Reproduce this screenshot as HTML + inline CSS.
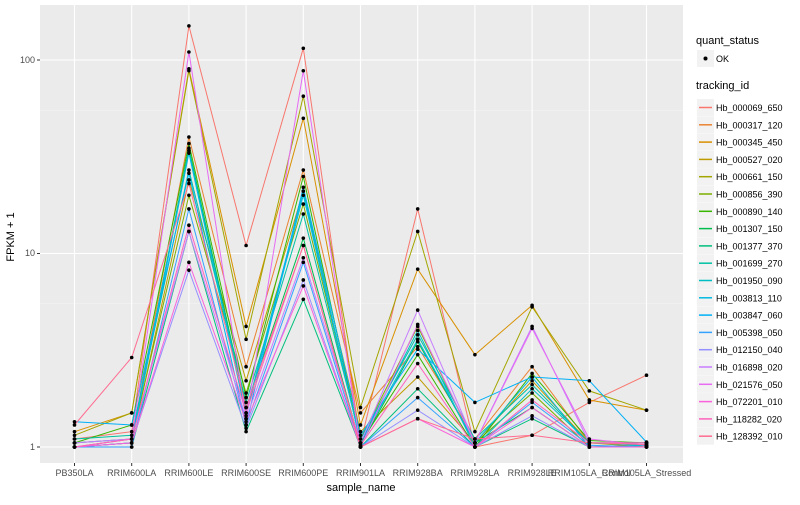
<!DOCTYPE html><html><head><style>body{margin:0;background:#fff;font-family:"Liberation Sans",sans-serif}</style></head><body>
<svg id="s" width="800" height="500" xmlns="http://www.w3.org/2000/svg" font-family="Liberation Sans, sans-serif">
<rect x="40" y="5" width="643" height="458" fill="#EBEBEB"/>
<g id="grid"></g><g id="lines"></g><g id="pts"></g>
<g font-size="9" fill="#4D4D4D" text-anchor="end">
<text x="35" y="450">1</text><text x="35" y="256">10</text><text x="35" y="63">100</text></g>
<g id="xl" font-size="9" fill="#4D4D4D" text-anchor="middle"></g>
<text x="361" y="491" font-size="11" text-anchor="middle">sample_name</text>
<text x="14" y="237" font-size="11" text-anchor="middle" transform="rotate(-90 14 237)">FPKM + 1</text>
<text x="696" y="44" font-size="11">quant_status</text>
<rect x="697" y="50" width="17" height="17" fill="#F2F2F2"/><circle cx="705.5" cy="58.5" r="2" fill="#000"/>
<text x="716" y="62" font-size="9">OK</text>
<text x="696" y="89" font-size="11">tracking_id</text>
<g id="leg" font-size="9"></g>
</svg>
<script>
var ns="http://www.w3.org/2000/svg";
function el(t,a,p,tx){var e=document.createElementNS(ns,t);for(var k in a)e.setAttribute(k,a[k]);if(tx)e.textContent=tx;document.getElementById(p).appendChild(e);return e;}
var X=[],cats=["PB350LA","RRIM600LA","RRIM600LE","RRIM600SE","RRIM600PE","RRIM901LA","RRIM928BA","RRIM928LA","RRIM928LE","RRIM105LA_Control","RRIM105LA_Stressed"];
for(var i=0;i<11;i++)X.push(74.5+57.2*i);
function Y(v){return 447-193.5*Math.log10(v);}
[5.5,55].forEach(function(v){el("line",{x1:40,x2:683,y1:Y(v),y2:Y(v),stroke:"#F5F5F5","stroke-width":0.6},"grid")});
[1,10,100].forEach(function(v){el("line",{x1:40,x2:683,y1:Y(v),y2:Y(v),stroke:"#fff","stroke-width":1.1},"grid")});
X.forEach(function(x,i){el("line",{x1:x,x2:x,y1:5,y2:463,stroke:"#fff","stroke-width":1.1},"grid");el("line",{x1:x,x2:x,y1:463,y2:466,stroke:"#333"},"grid");el("text",{x:x,y:476},"xl",cats[i]);});
[1,10,100].forEach(function(v){el("line",{x1:37,x2:40,y1:Y(v),y2:Y(v),stroke:"#333"},"grid")});
var C=["#F8766D","#EA8331","#D89000","#C09B00","#A3A500","#7CAE00","#39B600","#00BB4E","#00BF7D","#00C1A3","#00BFC4","#00BAE0","#00B0F6","#35A2FF","#9590FF","#C77CFF","#E76BF3","#FA62DB","#FF62BC","#FF6C91"];
var N=["Hb_000069_650","Hb_000317_120","Hb_000345_450","Hb_000527_020","Hb_000661_150","Hb_000856_390","Hb_000890_140","Hb_001307_150","Hb_001377_370","Hb_001699_270","Hb_001950_090","Hb_003813_110","Hb_003847_060","Hb_005398_050","Hb_012150_040","Hb_016898_020","Hb_021576_050","Hb_072201_010","Hb_118282_020","Hb_128392_010"];
var D=[
[1.1,1.2,150,11,115,1.05,17,1.0,1.15,1.7,2.35],
[1.05,1.1,40,2.6,27,1.5,3.3,1.1,2.6,1.05,1.05],
[1.2,1.5,90,4.2,50,1.3,8.3,3.0,5.4,1.75,1.55],
[1.0,1.05,24,2.2,21,1.2,2.3,1.05,2.2,1.05,1.0],
[1.15,1.5,88,3.6,65,1.6,13,1.2,5.3,1.95,1.55],
[1.0,1.1,20,1.9,18,1.1,4.2,1.05,1.9,1.0,1.02],
[1.05,1.3,37,1.8,25,1.05,3.0,1.0,2.4,1.08,1.05],
[1.0,1.05,35,1.6,12,1.02,3.5,1.05,1.6,1.0,1.0],
[1.0,1.0,13,1.2,5.8,1.0,2.0,1.0,1.4,1.0,1.0],
[1.1,1.15,27,1.7,16,1.1,3.8,1.1,2.1,1.05,1.05],
[1.05,1.1,34,1.5,21,1.05,4.0,1.0,2.0,1.05,1.02],
[1.0,1.05,33,1.45,20,1.05,3.6,1.05,2.3,1.0,1.02],
[1.35,1.3,26,1.3,22,1.15,3.2,1.7,2.3,2.2,1.06],
[1.0,1.0,17,1.3,9,1.0,1.8,1.0,1.7,1.02,1.0],
[1.0,1.05,8.2,1.25,7.3,1.0,1.55,1.0,1.45,1.0,1.0],
[1.05,1.1,13,1.4,9.5,1.05,5.1,1.05,4.2,1.05,1.05],
[1.0,1.1,110,1.4,88,1.0,4.3,1.05,4.1,1.1,1.02],
[1.0,1.05,9,1.35,6.8,1.0,1.4,1.0,1.6,1.0,1.0],
[1.0,1.1,14,1.5,11,1.02,2.7,1.0,1.75,1.05,1.05],
[1.3,2.9,23,1.6,11,1.0,1.4,1.1,1.15,1.05,1.03]];
D.forEach(function(r,j){var p=r.map(function(v,i){return X[i].toFixed(1)+","+Y(v).toFixed(1)}).join(" ");
el("polyline",{points:p,fill:"none",stroke:C[j],"stroke-width":1},"lines");
r.forEach(function(v,i){el("circle",{cx:X[i],cy:Y(v),r:1.8,fill:"#000"},"pts")});
var y=99+17.3*j;el("rect",{x:697,y:y,width:17,height:17,fill:"#F2F2F2"},"leg");
el("line",{x1:699,x2:712,y1:y+8.5,y2:y+8.5,stroke:C[j],"stroke-width":1.5},"leg");
el("text",{x:716,y:y+12},"leg",N[j]);});
</script></body></html>
